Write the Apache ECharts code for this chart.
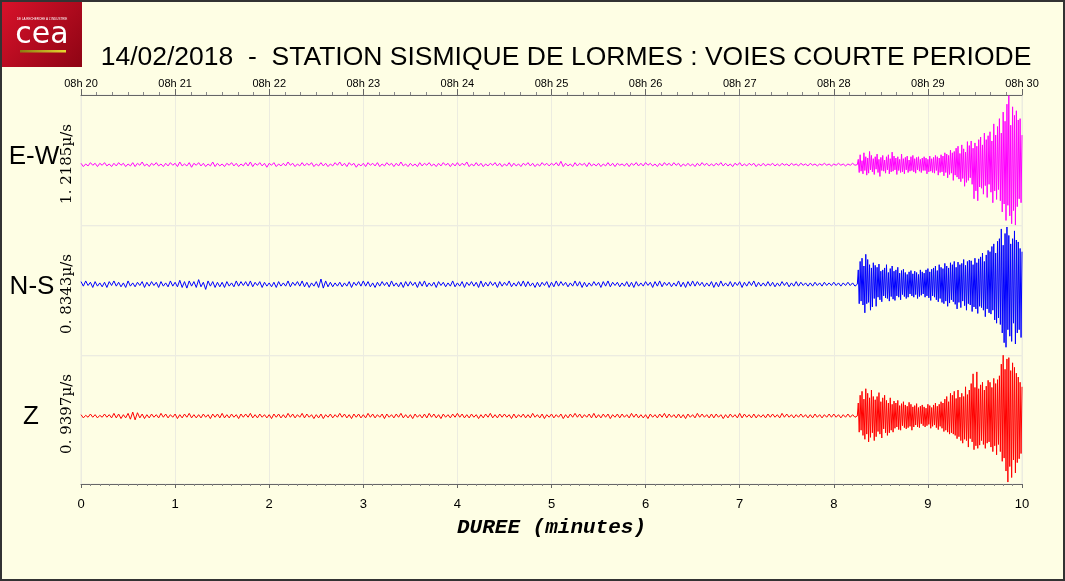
<!DOCTYPE html>
<html>
<head>
<meta charset="utf-8">
<script src="https://cdn.jsdelivr.net/npm/echarts@6/dist/echarts.min.js"></script>
<style>
html,body{margin:0;padding:0;background:#fefee4;}
#chart{width:1065px;height:581px;}
</style>
</head>
<body>
<div id="chart"></div>
<script>
// ---------------- DATA ----------------
const TITLE = '14/02/2018  -  STATION SISMIQUE DE LORMES : VOIES COURTE PERIODE';
const TOP_LABELS = ['08h 20','08h 21','08h 22','08h 23','08h 24','08h 25','08h 26','08h 27','08h 28','08h 29','08h 30'];
const BOTTOM_LABELS = ['0','1','2','3','4','5','6','7','8','9','10'];
const CHANNELS = ['E-W','N-S','Z'];
const SCALES = ['1. 2185\u00b5/s','0. 8343\u00b5/s','0. 9397\u00b5/s'];
const COLORS = ['#ff00ff','#0000ff','#ff0000'];

// sampling (minutes): quiet part from 0 to 8.25, event part from 8.26 to 10.00
const QUIET_STEP = 0.025;
const EVENT_START = 8.26;
const EVENT_STEP = 0.01;

// amplitudes in % of the channel scale
const EW_QUIET = [
2,-3,1,-2,3,-1,2,-3,2,-1, 3,-2,1,-3,2,-2,3,-1,2,-3, 1,-2,3,-3,2,-1,4,-2,1,-3, 2,-1,3,-2,1,-3,2,-2,3,-1,
2,-3,4,-2,1,-2,3,-4,2,-1, 3,-2,2,-3,1,-2,4,-3,2,-2, 1,-3,2,-1,3,-2,2,-3,1,-2, 3,-2,4,-3,2,-1,3,-2,2,-4,
2,-1,3,-3,1,-2,2,-2,4,-1, 2,-3,1,-2,3,-2,2,-1,3,-3, 1,-2,3,-2,2,-3,1,-2,3,-1, 4,-2,2,-3,3,-1,2,-4,1,-2,
2,-3,3,-1,2,-2,3,-3,1,-2, 3,-1,2,-3,2,-2,4,-2,1,-3, 2,-2,1,-3,3,-2,2,-1,3,-2, 1,-3,2,-2,3,-1,2,-3,2,-2,
3,-2,2,-1,4,-3,1,-2,3,-2, 2,-3,1,-2,2,-1,3,-2,2,-3, 1,-2,3,-3,2,-2,1,-3,2,-1, 3,-2,2,-3,1,-2,3,-1,2,-2,
2,-1,3,-2,5,-3,2,-2,1,-3, 3,-2,2,-1,2,-3,3,-2,1,-2, 2,-3,1,-2,3,-2,2,-3,2,-1, 1,-2,2,-3,2,-1,3,-2,2,-2,
3,-1,2,-2,1,-3,2,-2,3,-1, 2,-2,3,-1,2,-3,1,-2,2,-2, 1,-3,2,-2,3,-1,2,-2,1,-2, 2,-1,3,-2,2,-2,1,-3,2,-1,
3,-2,1,-2,2,-1,2,-3,1,-2, 2,-2,1,-1,2,-2,1,-2,2,-1, 1,-2,2,-1,1,-2,2,-1,1,-2, 2,-1,1,-2,1,-1,2,-1,1,-2,
1,-1,2,-1,1,-2,1,-1,2,-1, 0
];
const EW_EVENT = [
8,-12,15,-10,6,-14,18,-9,12,-16,
10,-13,20,-8,14,-11,9,-15,12,-7,
16,-12,8,-18,11,-9,14,-10,7,-13,
12,-8,15,-14,9,-11,19,-10,13,-8,
10,-15,12,-9,8,-12,16,-11,9,-14,
11,-8,13,-12,7,-10,12,-9,14,-11,
9,-13,11,-8,12,-10,8,-12,10,-9,
12,-9,10,-14,8,-11,13,-10,9,-12,
11,-13,14,-9,12,-16,10,-12,15,-11,
13,-17,18,-12,16,-20,14,-15,22,-13,
18,-24,20,-16,25,-19,28,-22,17,-26,
30,-21,24,-33,19,-27,35,-24,29,-20,
36,-30,25,-52,33,-40,28,-55,38,-34,
42,-36,30,-45,48,-32,38,-50,44,-30,
50,-42,36,-58,62,-40,45,-53,58,-38,
70,-55,48,-72,80,-60,66,-85,92,-62,
105,-78,60,-90,88,-70,75,-92,82,-64,
68,-52,70,-58,45
];

const NS_QUIET = [
4,-3,5,-2,3,-5,4,-3,2,-4, 3,-5,4,-2,5,-3,3,-4,2,-5, 5,-3,2,-4,3,-2,4,-5,3,-3, 4,-2,3,-5,4,-3,2,-4,5,-3,
3,-4,6,-5,4,-6,5,-3,4,-5, 7,-4,3,-8,5,-3,4,-5,3,-4, 3,-5,4,-3,2,-4,5,-3,4,-2, 4,-3,5,-4,3,-2,4,-5,3,-3,
2,-4,3,-5,4,-3,2,-3,5,-4, 3,-2,4,-3,5,-4,3,-5,2,-3, 4,-5,8,-6,5,-4,3,-4,2,-3, 3,-4,2,-3,4,-5,3,-2,4,-3,
5,-3,4,-4,2,-5,3,-3,4,-2, 3,-4,5,-3,2,-4,3,-5,4,-3, 4,-2,3,-5,4,-3,5,-4,2,-3, 3,-5,4,-2,3,-4,2,-3,5,-4,
2,-3,4,-5,3,-2,4,-3,3,-5, 5,-4,3,-3,4,-2,3,-5,4,-3, 3,-2,5,-4,2,-3,4,-3,5,-4, 4,-3,2,-5,3,-4,3,-2,4,-5,
3,-4,5,-3,4,-2,3,-4,2,-3, 5,-3,4,-5,3,-4,2,-3,4,-2, 3,-5,4,-3,5,-4,3,-2,3,-4, 2,-3,4,-4,3,-5,4,-3,2,-3,
4,-2,3,-5,4,-3,5,-4,3,-2, 3,-4,2,-3,5,-4,3,-5,4,-3, 5,-3,4,-2,3,-4,2,-3,4,-5, 3,-4,5,-3,2,-3,4,-4,3,-2,
4,-5,3,-3,4,-2,5,-4,3,-3, 2,-3,4,-3,3,-4,2,-3,4,-2, 3,-4,2,-3,4,-3,3,-2,2,-3, 2,-3,3,-2,2,-3,3,-2,2,-2,
3,-2,2,-3,2,-2,3,-2,2,-3, 0
];
const NS_EVENT = [
22,-30,35,-26,40,-32,28,-44,46,-30,
38,-28,30,-40,25,-35,33,-22,29,-34,
26,-20,31,-24,20,-27,22,-18,25,-21,
30,-22,18,-26,24,-19,28,-23,20,-25,
22,-18,26,-20,17,-24,21,-16,23,-19,
18,-22,15,-20,19,-15,21,-18,16,-20,
20,-16,18,-22,15,-19,22,-17,19,-15,
17,-20,22,-18,24,-21,19,-25,23,-18,
25,-20,28,-24,21,-27,30,-22,26,-28,
24,-30,32,-26,28,-34,25,-29,33,-24,
30,-27,35,-31,26,-38,34,-28,30,-36,
32,-26,38,-33,29,-40,35,-30,37,-32,
36,-42,30,-35,40,-38,33,-45,39,-34,
42,-36,48,-40,35,-50,45,-38,52,-44,
50,-46,58,-40,62,-55,48,-60,66,-52,
70,-62,85,-75,60,-90,78,-97,88,-70,
75,-80,62,-88,70,-60,82,-92,68,-75,
65,-70,55,-82,50
];

const Z_QUIET = [
2,-3,1,-2,3,-2,2,-3,1,-2, 3,-2,2,-3,4,-3,3,-4,2,-3, 4,-5,6,-6,5,-3,3,-4,2,-3, 3,-2,2,-3,4,-2,3,-3,2,-2,
3,-4,2,-3,3,-2,4,-3,2,-3, 2,-3,3,-2,2,-4,3,-2,3,-3, 4,-3,2,-3,3,-2,2,-4,3,-2, 3,-2,4,-3,2,-3,3,-2,2,-3,
2,-4,3,-2,3,-3,2,-3,4,-2, 3,-3,2,-2,4,-3,3,-2,2,-4, 2,-3,3,-4,2,-2,3,-3,2,-2, 4,-2,3,-3,2,-4,3,-2,3,-3,
2,-3,4,-2,3,-3,2,-2,3,-4, 3,-2,2,-3,3,-2,4,-3,2,-3, 2,-4,3,-2,2,-3,3,-3,4,-2, 3,-3,2,-4,3,-2,2,-3,3,-2,
4,-2,3,-3,2,-3,3,-2,2,-4, 2,-3,3,-2,4,-3,2,-3,3,-2, 3,-2,2,-4,3,-3,2,-2,3,-3, 2,-3,4,-2,2,-3,3,-4,2,-2,
3,-3,2,-2,3,-4,2,-3,3,-2, 4,-2,3,-3,2,-2,3,-3,4,-3, 2,-3,3,-2,3,-4,2,-2,3,-3, 3,-2,2,-3,4,-2,3,-3,2,-3,
2,-4,3,-2,2,-3,3,-2,4,-3, 3,-2,2,-3,3,-3,2,-4,3,-2, 2,-3,4,-2,3,-2,2,-3,3,-3, 3,-2,2,-4,2,-3,3,-2,2,-3,
4,-3,3,-2,2,-3,3,-3,2,-2, 2,-3,3,-2,3,-2,2,-3,4,-2, 3,-2,2,-3,2,-2,3,-2,2,-3, 2,-3,3,-2,2,-3,2,-2,3,-2,
3,-2,2,-3,2,-2,3,-2,2,-2, 0
];
const Z_EVENT = [
20,-25,32,-22,38,-30,26,-36,42,-28,
35,-40,28,-33,40,-26,30,-38,25,-32,
30,-24,36,-28,22,-34,28,-20,32,-26,
24,-30,20,-26,28,-22,18,-25,23,-19,
20,-17,24,-21,16,-22,19,-15,22,-18,
17,-20,15,-18,21,-16,18,-22,14,-17,
16,-14,19,-17,13,-18,15,-12,17,-15,
14,-17,12,-15,18,-13,16,-19,13,-16,
17,-14,20,-18,15,-21,18,-16,22,-19,
20,-24,26,-22,30,-25,22,-28,35,-26,
32,-28,38,-30,27,-35,40,-32,29,-38,
35,-42,30,-36,45,-38,33,-48,40,-35,
50,-40,65,-52,44,-46,68,-50,42,-45,
48,-38,52,-44,40,-50,46,-42,55,-40,
52,-48,44,-55,58,-46,50,-60,56,-44,
62,-55,80,-70,95,-65,72,-85,88,-102,
90,-78,70,-95,82,-68,75,-88,66,-72,
60,-66,52,-58,45
];

// ---------------- BUILD ----------------
function toPoints(quiet, event) {
  const pts = quiet.map((v, i) => [+(i * QUIET_STEP).toFixed(4), v]);
  event.forEach((v, i) => pts.push([+(EVENT_START + i * EVENT_STEP).toFixed(4), v]));
  return pts;
}
const TRACES = [toPoints(EW_QUIET, EW_EVENT), toPoints(NS_QUIET, NS_EVENT), toPoints(Z_QUIET, Z_EVENT)];

const chart = echarts.init(document.getElementById('chart'), null, {renderer: 'canvas'});

const L = 81, R = 43;
const grids = [
  {left: L, right: R, top: 95, height: 130.7},
  {left: L, right: R, top: 225.7, height: 130},
  {left: L, right: R, top: 355.7, height: 128.3}
].map(g => Object.assign(g, {show: true, borderColor: '#ecece0', borderWidth: 1, backgroundColor: 'transparent', containLabel: false}));

const yRanges = [[-93, 106], [-110, 90], [-105, 93]];
const splitLine = {show: true, lineStyle: {color: '#ecece0', width: 1}};

const xAxes = [0, 1, 2].map(i => {
  const base = {
    type: 'value', gridIndex: i, min: 0, max: 10, interval: 1,
    splitLine: splitLine,
    axisLine: {show: false}, axisTick: {show: false}, axisLabel: {show: false}
  };
  if (i === 0) {
    Object.assign(base, {
      position: 'top',
      axisLine: {show: true, onZero: false, lineStyle: {color: '#666', width: 1}},
      axisTick: {show: true, length: 6, lineStyle: {color: '#666'}},
      minorTick: {show: true, splitNumber: 6, length: 3, lineStyle: {color: '#888'}},
      axisLabel: {show: true, margin: 6, fontSize: 11, color: '#000', fontFamily: 'Liberation Sans',
                  formatter: v => TOP_LABELS[Math.round(v)]}
    });
  }
  if (i === 2) {
    Object.assign(base, {
      position: 'bottom',
      axisLine: {show: true, onZero: false, lineStyle: {color: '#666', width: 1}},
      axisTick: {show: true, length: 4, lineStyle: {color: '#666'}},
      minorTick: {show: true, splitNumber: 10, length: 2, lineStyle: {color: '#888'}},
      axisLabel: {show: true, margin: 14, fontSize: 13, color: '#000', fontFamily: 'Liberation Sans',
                  formatter: v => BOTTOM_LABELS[Math.round(v)]},
      name: 'DUREE (minutes)', nameLocation: 'middle', nameGap: 33,
      nameTextStyle: {fontFamily: 'Liberation Mono', fontWeight: 'bold', fontStyle: 'italic', fontSize: 21, color: '#000'}
    });
  }
  return base;
});

const yAxes = [0, 1, 2].map(i => ({
  type: 'value', gridIndex: i, min: yRanges[i][0], max: yRanges[i][1],
  show: true, axisLine: {show: false}, axisTick: {show: false}, axisLabel: {show: false}, splitLine: {show: false}
}));

const series = [0, 1, 2].map(i => ({
  type: 'line', name: CHANNELS[i], xAxisIndex: i, yAxisIndex: i,
  data: TRACES[i], showSymbol: false, symbol: 'none', sampling: null,
  lineStyle: {color: COLORS[i], width: 1}, itemStyle: {color: COLORS[i]},
  animation: false, silent: true
}));

// side labels
const chanY = [157, 287, 417];
const chanX = [34, 32, 31];
const scaleY = [164, 294, 414];
const graphics = [];
CHANNELS.forEach((c, i) => {
  graphics.push({type: 'text', x: chanX[i], y: chanY[i], style: {
    text: c, fill: '#000', font: '26px "Liberation Sans"', textAlign: 'center', textVerticalAlign: 'middle'}});
  graphics.push({type: 'text', x: 67, y: scaleY[i], rotation: Math.PI / 2, style: {
    text: SCALES[i], fill: '#000', font: '15px "DejaVu Serif"', textAlign: 'center', textVerticalAlign: 'middle'}});
});
// title
graphics.push({type: 'text', x: 566, y: 58, style: {
  text: TITLE, fill: '#000', font: '26.5px "Liberation Sans"', textAlign: 'center', textVerticalAlign: 'middle'}});
// outer frame
graphics.push({type: 'rect', shape: {x: 1, y: 1, width: 1063, height: 579}, style: {fill: null, stroke: '#333', lineWidth: 2}, z: 100});
// CEA logo
graphics.push({type: 'rect', shape: {x: 2, y: 2, width: 80, height: 65}, style: {
  fill: new echarts.graphic.LinearGradient(0, 0, 1, 1, [{offset: 0, color: '#d8122a'}, {offset: 1, color: '#8e0414'}])}, z: 50});
graphics.push({type: 'text', x: 42, y: 19, style: {text: 'DE LA RECHERCHE \u00c0 L\u2019INDUSTRIE', fill: '#fff', font: '3px "Liberation Sans"', textAlign: 'center', textVerticalAlign: 'middle'}, z: 51});
graphics.push({type: 'text', x: 42, y: 35, style: {text: 'cea', fill: '#fff', font: '30px "DejaVu Sans"', textAlign: 'center', textVerticalAlign: 'middle'}, z: 51});
graphics.push({type: 'rect', shape: {x: 20, y: 50, width: 46, height: 2.5}, style: {
  fill: new echarts.graphic.LinearGradient(0, 0, 1, 0, [{offset: 0, color: '#8a7a10'}, {offset: 1, color: '#e8d830'}])}, z: 51});

chart.setOption({
  backgroundColor: '#fefee4',
  animation: false,
  grid: grids,
  xAxis: xAxes,
  yAxis: yAxes,
  series: series,
  graphic: graphics
});
</script>
</body>
</html>
